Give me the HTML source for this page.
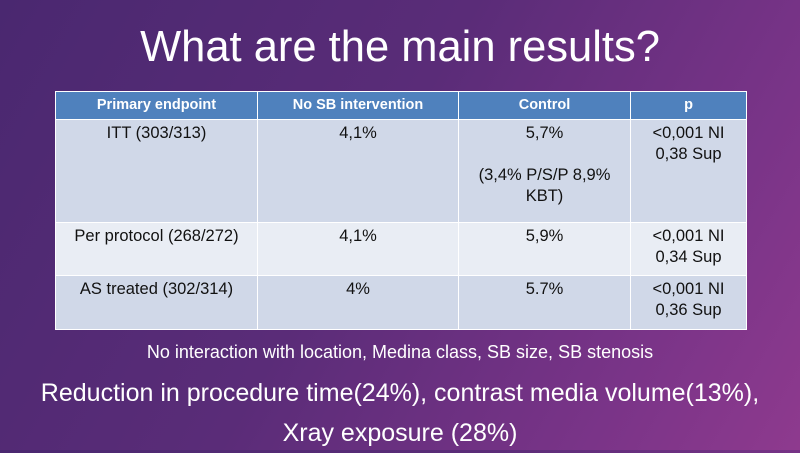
<!DOCTYPE html>
<html><head><style>
body{margin:0;width:800px;height:450px;overflow:hidden;background:linear-gradient(120deg,#4a2870 0%,#5a2c78 45%,#7a3488 80%,#8e3a8e 100%);font-family:"Liberation Sans",Calibri,sans-serif;color:#fff;position:relative}
h1{position:absolute;top:21px;left:0;width:800px;text-align:center;margin:0;font-weight:normal;font-size:43.5px;line-height:52px}
table{position:absolute;left:55px;top:91px;width:692px;border-collapse:collapse;font-size:16.5px;color:#111}
td,th{border:1.5px solid #fff;text-align:center;vertical-align:top;padding:3px 4px;line-height:21px}
th{background:#4f81bd;color:#fff;font-size:14.5px;height:21px;padding:3px 4px}
tr.a td{background:#d0d8e8}
tr.b td{background:#e9edf4}
.s{position:absolute;top:342px;width:800px;text-align:center;font-size:18px}
.b1{position:absolute;top:373px;width:800px;text-align:center;font-size:25px;line-height:40px}
</style></head><body>
<h1>What are the main results?</h1>
<table>
<tr><th style="width:193px">Primary endpoint</th><th style="width:192px">No SB intervention</th><th style="width:163px">Control</th><th>p</th></tr>
<tr class="a"><td style="height:96px">ITT (303/313)</td><td>4,1%</td><td>5,7%<br><br>(3,4% P/S/P 8,9%<br>KBT)</td><td>&lt;0,001 NI<br>0,38 Sup</td></tr>
<tr class="b"><td style="height:46px">Per protocol (268/272)</td><td>4,1%</td><td>5,9%</td><td>&lt;0,001 NI<br>0,34 Sup</td></tr>
<tr class="a"><td style="height:47px">AS treated (302/314)</td><td>4%</td><td>5.7%</td><td>&lt;0,001 NI<br>0,36 Sup</td></tr>
</table>
<div class="s">No interaction with location, Medina class, SB size, SB stenosis</div>
<div class="b1">Reduction in procedure time(24%), contrast media volume(13%),<br>Xray exposure (28%)</div>
</body></html>
